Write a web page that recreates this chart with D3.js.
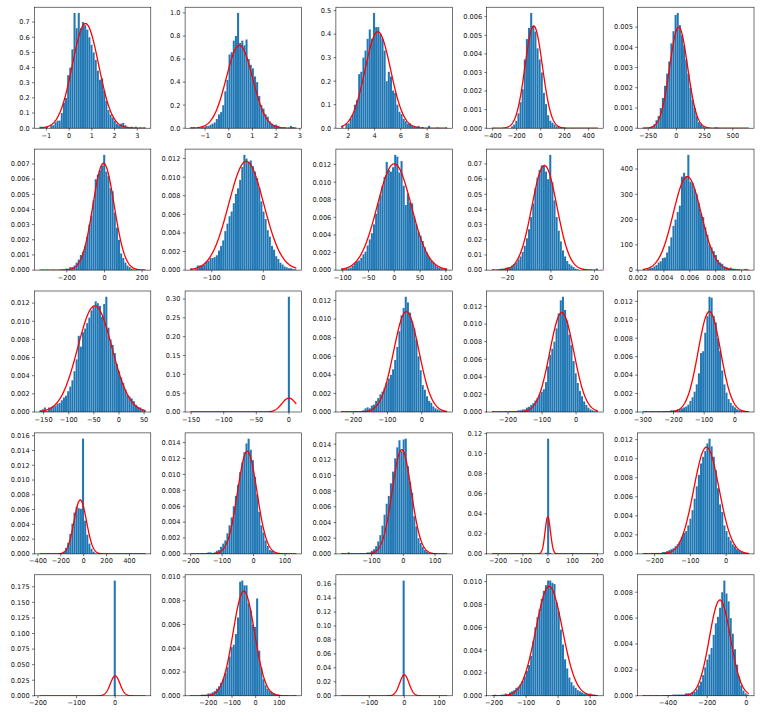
<!DOCTYPE html>
<html>
<head>
<meta charset="utf-8">
<script src="https://cdn.jsdelivr.net/npm/d3@7"></script>
<style>
  body { margin: 0; background: #fff; }
  svg { display: block; }
  text { font-family: "DejaVu Sans", sans-serif; font-size: 6.6px; fill: #111; }
</style>
</head>
<body>
<svg id="chart" width="761" height="714"></svg>
<script>
// --- DATA (panels row by row, 5 x 5) ---

// [first bin edge, last bin edge] of each histogram
const binRanges = [
  [-1.3, 3.36], [-1.62, 2.85], [1.46, 9.52], [-406, 477], [-298, 641],
  [-345, 218], [-141.3, 64.1], [-103, 102.5], [-27.1, 21.6], [0.00237, 0.01055],
  [-158, 52.8], [-151.1, 11.3], [-235, 74], [-247.4, 64.2], [-300.3, 45.3],
  [-385.7, 540.4], [-201.1, 136.2], [-196, 138], [-224.4, 201.6], [-233.2, 63.3],
  [-195.8, 78.6], [-276, 172], [-180, 122], [-206.4, 124.3], [-529.7, 12.2],
];

// density of each of the 50 bins
const heights = [
  [0.01,0.01,0,0.01,0,0.02,0.02,0.04,0.05,0.05, 0.1,0.17,0.2,0.35,0.4,0.52,0.76,0.66,0.76,0.66,
   0.7,0.68,0.65,0.6,0.55,0.5,0.45,0.38,0.32,0.33, 0.25,0.18,0.12,0.09,0.07,0.05,0.03,0.02,0.03,0.035,
   0.02,0.01,0.005,0.01,0.005,0.01,0,0.005,0,0.005],
  [0.01,0.01,0,0,0.005,0.01,0.01,0.02,0.02,0.03, 0.04,0.05,0.08,0.12,0.14,0.2,0.32,0.42,0.64,0.66,
   0.76,0.8,1.0,0.74,0.76,0.72,0.77,0.6,0.55,0.52, 0.45,0.4,0.28,0.2,0.17,0.12,0.1,0.06,0.04,0.03,
   0.03,0.02,0.01,0.005,0.01,0,0.005,0.02,0.01,0.005],
  [0.01,0,0.02,0.02,0.04,0.06,0.1,0.12,0.23,0.24, 0.3,0.33,0.38,0.42,0.38,0.49,0.43,0.43,0.4,0.38,
   0.33,0.2,0.24,0.22,0.16,0.15,0.1,0.07,0.06,0.04, 0.03,0.02,0.02,0.01,0.01,0.005,0.01,0,0.005,0,
   0,0.01,0,0,0,0.003,0,0,0,0.003],
  [0,0,0,0,0,0,0,0,0,0.0001, 0.0002,0.0004,0.0008,0.0014,0.0021,0.0037,0.0048,0.0054,0.0062,0.0055,
   0.0052,0.0043,0.0037,0.003,0.0019,0.0013,0.0007,0.0004,0.0003,0.0002, 0.0001,0.0001,0.00005,0.00005,0.00003,0,0,0,0,0,
   0,0,0,0,0,0,0,0,0,0],
  [0.00003,0.00003,0,0.00005,0.0001,0.0002,0.0004,0.0006,0.001,0.0015, 0.0021,0.0027,0.0033,0.0042,0.0048,0.0056,0.0057,0.0051,0.0046,0.0041,
   0.0034,0.0027,0.002,0.0014,0.001,0.0006,0.0003,0.0002,0.0001,0.00005, 0.00003,0,0,0,0.00005,0.00003,0,0,0,0,
   0,0,0,0,0,0,0,0,0,0],
  [0,0.00002,0,0.00002,0,0,0.00002,0,0,0.00003, 0.00005,0.00003,0.0001,0.0001,0.0002,0.0002,0.0003,0.0005,0.0007,0.001,
   0.0012,0.0016,0.0022,0.003,0.0036,0.0046,0.006,0.0063,0.0066,0.0069, 0.0076,0.0065,0.0062,0.0054,0.0052,0.0038,0.0028,0.002,0.0011,0.0008,
   0.0005,0.0003,0.0002,0.0001,0.00005,0.00003,0,0,0,0.00002],
  [0.0002,0,0.0001,0.0005,0.0005,0.0005,0.0006,0.0009,0.001,0.0013, 0.0013,0.0014,0.0016,0.0021,0.0026,0.0032,0.0042,0.005,0.0058,0.0063,
   0.0072,0.0082,0.0088,0.0097,0.0111,0.0124,0.012,0.0116,0.0118,0.0112, 0.0106,0.0099,0.0089,0.0074,0.0063,0.0055,0.0043,0.0036,0.0026,0.0022,
   0.0015,0.0012,0.0008,0.0006,0.0004,0.0003,0.0002,0.0002,0.0001,0.0001],
  [0.0002,0.0001,0.0002,0.0002,0.0003,0.0005,0.0008,0.001,0.0011,0.0014, 0.0018,0.0021,0.0028,0.0035,0.0042,0.0052,0.0064,0.0076,0.0085,0.0096,
   0.0106,0.0123,0.0114,0.0112,0.0117,0.0131,0.0129,0.0111,0.0124,0.0096, 0.0074,0.0087,0.0077,0.0076,0.0061,0.0052,0.0043,0.0039,0.0033,0.0026,
   0.002,0.0015,0.0011,0.0009,0.0006,0.0004,0.0003,0.0002,0.0001,0.0002],
  [0.0005,0,0,0.0005,0.001,0.001,0.0015,0.002,0.002,0.003, 0.004,0.005,0.007,0.009,0.012,0.016,0.021,0.027,0.035,0.044,
   0.054,0.061,0.066,0.069,0.069,0.065,0.06,0.076,0.058,0.046, 0.035,0.026,0.019,0.013,0.009,0.006,0.004,0.003,0.002,0.001,
   0.0005,0,0,0,0,0,0,0,0,0.001],
  [2,0,5,8,10,15,20,30,35,48, 50,70,95,130,175,200,230,255,370,385,
   370,456,350,345,320,300,265,225,210,170, 140,100,90,75,60,40,30,25,15,12,
   8,10,6,5,2,2,0,0,5,2],
  [0.0002,0.0003,0.0005,0.0001,0.0005,0.0005,0.0006,0.0007,0.0009,0.001, 0.0013,0.0016,0.0018,0.0023,0.0028,0.0035,0.0045,0.0058,0.0084,0.0072,
   0.0088,0.0092,0.0098,0.0104,0.0112,0.0116,0.0122,0.012,0.0117,0.0105, 0.0119,0.0127,0.0093,0.008,0.0074,0.0065,0.0053,0.0045,0.0038,0.0032,
   0.0025,0.0019,0.0017,0.0015,0.0012,0.0008,0.0005,0.0005,0.0003,0.0002],
  [0,0,0,0,0,0,0,0,0,0, 0,0,0,0,0,0,0,0,0,0,
   0,0,0,0,0,0,0,0,0,0, 0,0,0,0,0,0,0,0,0,0,
   0,0,0,0,0,0,0.306,0,0,0],
  [0.0001,0,0.0001,0,0.0001,0,0.0001,0.0001,0.0001,0.0001, 0.0002,0.0004,0.0005,0.0004,0.0007,0.0008,0.0012,0.0015,0.0019,0.0022,
   0.0026,0.0032,0.0036,0.004,0.0046,0.0056,0.007,0.0087,0.0104,0.0112, 0.0124,0.0118,0.0107,0.0098,0.009,0.0078,0.006,0.0045,0.0029,0.0024,
   0.0017,0.0012,0.001,0.0006,0.0004,0.0003,0.0002,0.0001,0.0001,0.0001],
  [0.0001,0,0,0.0001,0,0,0.0001,0,0.0001,0.0001, 0.0001,0.0001,0.0002,0.0002,0.0003,0.0003,0.0005,0.0006,0.0008,0.001,
   0.0013,0.0016,0.002,0.0023,0.0026,0.0034,0.0052,0.0065,0.0072,0.008, 0.0095,0.0112,0.0127,0.0131,0.0116,0.0104,0.0088,0.0076,0.0058,0.0044,
   0.0033,0.0024,0.0018,0.0012,0.0008,0.0005,0.0003,0.0002,0.0001,0.0001],
  [0,0.0001,0,0,0.0001,0,0,0.0001,0,0.0001, 0.0001,0.0001,0.0001,0.0002,0.0002,0.0002,0.0003,0.0003,0.0004,0.0005,
   0.0006,0.0008,0.0012,0.0016,0.0022,0.003,0.0042,0.0064,0.0066,0.0086, 0.0104,0.0125,0.0124,0.0104,0.0097,0.008,0.0066,0.0045,0.003,0.0021,
   0.0014,0.001,0.0007,0.0005,0.0003,0.0002,0.0002,0.0001,0.0001,0.0001],
  [0.00003,0,0,0,0,0,0,0,0,0.00003, 0.0001,0.0003,0.0008,0.0015,0.0027,0.0041,0.0056,0.0064,0.0062,0.0061,
   0.0156,0.0045,0.0026,0.0014,0.0007,0.0003,0.0001,0.00005,0,0, 0,0,0,0,0,0,0,0,0,0,
   0,0,0,0,0,0,0,0,0,0],
  [0,0,0,0,0,0.0001,0,0.0001,0.0002,0.0002, 0.0001,0.0002,0.0004,0.0005,0.0009,0.0013,0.0017,0.0026,0.0036,0.0046,
   0.006,0.0073,0.0087,0.0103,0.0115,0.0128,0.0139,0.0145,0.0131,0.0118, 0.0097,0.0075,0.0053,0.0036,0.0027,0.0017,0.001,0.0005,0.0004,0.0002,
   0.0001,0,0,0,0,0.00005,0,0,0,0.00003],
  [0.0001,0,0,0.0002,0,0,0,0,0,0.0001, 0,0.0001,0.0002,0.0002,0.0004,0.0006,0.001,0.0016,0.0024,0.0036,
   0.005,0.0064,0.0074,0.009,0.0105,0.0122,0.0136,0.0145,0.0131,0.0146, 0.0147,0.0112,0.0092,0.0078,0.0048,0.0035,0.002,0.0014,0.0009,0.0005,
   0.0003,0.0001,0.0001,0,0,0,0,0,0,0],
  [0,0,0,0,0,0,0,0,0,0, 0,0,0,0,0,0,0,0,0,0,
   0,0,0,0,0,0.0012,0.115,0.001,0,0, 0,0,0,0,0,0,0,0,0,0,
   0,0,0,0,0,0,0,0,0,0],
  [0,0.0001,0,0,0.0001,0.0001,0.0001,0.0001,0.0001,0.0002, 0.0002,0.0003,0.0004,0.0005,0.0006,0.0008,0.001,0.0013,0.0018,0.0022,
   0.0024,0.003,0.0037,0.0046,0.0058,0.0071,0.0083,0.0095,0.0102,0.0108, 0.0116,0.0121,0.0113,0.0102,0.0088,0.0069,0.0052,0.0044,0.003,0.0024,
   0.0018,0.0014,0.001,0.0008,0.0005,0.0004,0.0003,0.0002,0.0001,0.0001],
  [0,0,0,0,0,0,0,0,0,0, 0,0,0,0,0,0,0,0,0,0,
   0,0,0,0,0,0,0,0,0,0, 0,0,0,0,0,0.185,0,0,0,0,
   0,0,0,0,0,0,0,0,0,0],
  [0.00005,0,0,0,0,0.0001,0.0001,0.0001,0.0002,0.0002, 0.0003,0.0004,0.0006,0.0008,0.0011,0.0014,0.0019,0.0024,0.0033,0.0041,
   0.0043,0.0052,0.0066,0.0096,0.0097,0.0093,0.0093,0.0078,0.0072,0.006, 0.0058,0.0082,0.0038,0.0024,0.0014,0.0009,0.0006,0.0004,0.0003,0.0002,
   0.0001,0.0001,0.00005,0,0,0,0,0,0,0.00003],
  [0,0,0,0,0,0,0,0,0,0, 0,0,0,0,0,0,0,0,0,0,
   0,0,0,0,0,0,0,0,0,0.165, 0,0,0,0,0,0,0,0,0,0,
   0,0,0,0,0,0,0,0,0,0],
  [0.00005,0.0001,0,0,0.0001,0.0001,0.0002,0.0001,0.0003,0.0004, 0.0005,0.0007,0.0008,0.001,0.0013,0.0017,0.0022,0.0027,0.0035,0.0048,
   0.006,0.0069,0.0076,0.0085,0.0092,0.0097,0.0101,0.0101,0.0099,0.0098, 0.0082,0.0074,0.0058,0.0045,0.0032,0.0024,0.0016,0.0012,0.0009,0.0007,
   0.0005,0.0004,0.0003,0.0002,0.0002,0.0001,0.0002,0.0001,0.0001,0.00005],
  [0.00003,0,0,0.00003,0,0,0.00003,0,0,0.00003, 0.00003,0.00005,0.00005,0.00005,0.0001,0.0001,0.0001,0.0001,0.0001,0.0001,
   0.0002,0.0002,0.0002,0.0003,0.0003,0.0005,0.0008,0.0011,0.0016,0.0022, 0.0028,0.0032,0.0037,0.0047,0.0056,0.0061,0.0068,0.008,0.0089,0.0079,
   0.0073,0.006,0.0048,0.0036,0.0024,0.0015,0.0008,0.0004,0.0002,0.0001],
];

// fitted normal curve of each panel
const mus = [
  0.72, 0.45, 4.25, -58, 20,
  -5, -33, 0, -3, 0.0058,
  -48, 0, -45, -42, -83,
  -30, -20, -5, 0, -55,
  0, -50, 0, -28, -135,
];
const sigmas = [
  0.578, 0.554, 0.973, 72.5, 79.8,
  56.6, 34.1, 33.0, 5.78, 0.001078,
  34.1, 10.8, 36.9, 35.3, 36.6,
  54.6, 30.9, 30.0, 10.8, 35.6,
  12.5, 45.3, 13.3, 41.6, 53.9,
];

const xTicks = [
  [-1, 0, 1, 2, 3], [-1, 0, 1, 2, 3], [2, 4, 6, 8], [-400, -200, 0, 200, 400], [-250, 0, 250, 500],
  [-200, 0, 200], [-100, 0], [-100, -50, 0, 50, 100], [-20, 0, 20], [0.002, 0.004, 0.006, 0.008, 0.010],
  [-150, -100, -50, 0, 50], [-150, -100, -50, 0], [-200, -100, 0], [-200, -100, 0], [-300, -200, -100, 0],
  [-400, -200, 0, 200, 400], [-200, -100, 0, 100], [-100, 0, 100], [-200, -100, 0, 100, 200], [-200, -100, 0],
  [-200, -100, 0], [-200, -100, 0, 100], [-100, 0, 100], [-200, -100, 0, 100], [-400, -200, 0],
];
const xDecimals = [
  0, 0, 0, 0, 0,
  0, 0, 0, 0, 3,
  0, 0, 0, 0, 0,
  0, 0, 0, 0, 0,
  0, 0, 0, 0, 0,
];
const yTickSteps = [
  0.1, 0.2, 0.1, 0.001, 0.001,
  0.001, 0.002, 0.002, 0.01, 100,
  0.002, 0.05, 0.002, 0.002, 0.002,
  0.002, 0.002, 0.002, 0.02, 0.002,
  0.025, 0.002, 0.02, 0.002, 0.002,
];
const yDecimals = [
  1, 1, 1, 3, 3,
  3, 3, 3, 2, 0,
  3, 2, 3, 3, 3,
  3, 3, 3, 2, 3,
  3, 3, 2, 3, 3,
];

// --- LAYOUT ---
const left0 = 34.3, colStep = 150.8, panelW = 116.5;
const top0 = 7.2, rowStep = 141.9, panelH = 121;
const tickLen = 2.3, tickPad = 2.3;

const svg = d3.select("#chart");

function fmt(v, dec) {
  return d3.format(`.${dec}f`)(v).replace("-", "\u2212");
}

function normalPdf(x, mu, sigma) {
  const z = (x - mu) / sigma;
  return Math.exp(-0.5 * z * z) / (sigma * Math.sqrt(2 * Math.PI));
}

heights.forEach((hs, p) => {
  const row = Math.floor(p / 5), col = p % 5;
  const [lo, hi] = binRanges[p];
  const span = hi - lo;
  const bw = span / hs.length;
  const mu = mus[p], sigma = sigmas[p];

  const peak = normalPdf(mu, mu, sigma);
  const yTop = 1.05 * Math.max(d3.max(hs), peak);

  const x = d3.scaleLinear().domain([lo - 0.05 * span, hi + 0.05 * span]).range([0, panelW]);
  const y = d3.scaleLinear().domain([0, yTop]).range([panelH, 0]);

  const g = svg.append("g")
    .attr("transform", `translate(${left0 + col * colStep},${top0 + row * rowStep})`);

  svg.append("clipPath").attr("id", `clip${p}`)
    .append("rect").attr("width", panelW).attr("height", panelH);

  // bars
  g.append("g")
    .selectAll("rect")
    .data(hs)
    .enter()
    .append("rect")
    .attr("x", (d, i) => x(lo + i * bw))
    .attr("width", (d, i) => x(lo + (i + 1) * bw) - x(lo + i * bw))
    .attr("y", (d) => y(d))
    .attr("height", (d) => y(0) - y(d))
    .attr("fill", "#1f77b4")
    .attr("stroke", "rgba(255,255,255,0.3)")
    .attr("stroke-width", 0.25);

  // fitted normal curve
  const xs = d3.range(0, 301).map((k) => lo + (span * k) / 300);
  const line = d3.line()
    .x((d) => x(d))
    .y((d) => y(normalPdf(d, mu, sigma)));
  g.append("path")
    .datum(xs)
    .attr("d", line)
    .attr("fill", "none")
    .attr("stroke", "red")
    .attr("stroke-width", 1.3)
    .attr("clip-path", `url(#clip${p})`);

  // x ticks
  const xt = g.append("g").attr("transform", `translate(0,${panelH})`);
  xTicks[p].forEach((t) => {
    const px = x(t);
    xt.append("line").attr("x1", px).attr("x2", px).attr("y1", 0).attr("y2", tickLen)
      .attr("stroke", "#000").attr("stroke-width", 0.55);
    xt.append("text").attr("x", px).attr("y", tickLen + tickPad + 5)
      .attr("text-anchor", "middle").text(fmt(t, xDecimals[p]));
  });

  // y ticks
  const step = yTickSteps[p];
  const yt = g.append("g");
  for (let k = 0; k * step <= yTop * (1 + 1e-9); k++) {
    const t = k * step;
    const py = y(t);
    yt.append("line").attr("x1", -tickLen).attr("x2", 0).attr("y1", py).attr("y2", py)
      .attr("stroke", "#000").attr("stroke-width", 0.55);
    yt.append("text").attr("x", -tickLen - tickPad).attr("y", py)
      .attr("dy", "0.36em").attr("text-anchor", "end").text(fmt(t, yDecimals[p]));
  }

  // spines
  g.append("rect")
    .attr("width", panelW).attr("height", panelH)
    .attr("fill", "none").attr("stroke", "#000").attr("stroke-width", 0.55);
});
</script>
</body>
</html>
